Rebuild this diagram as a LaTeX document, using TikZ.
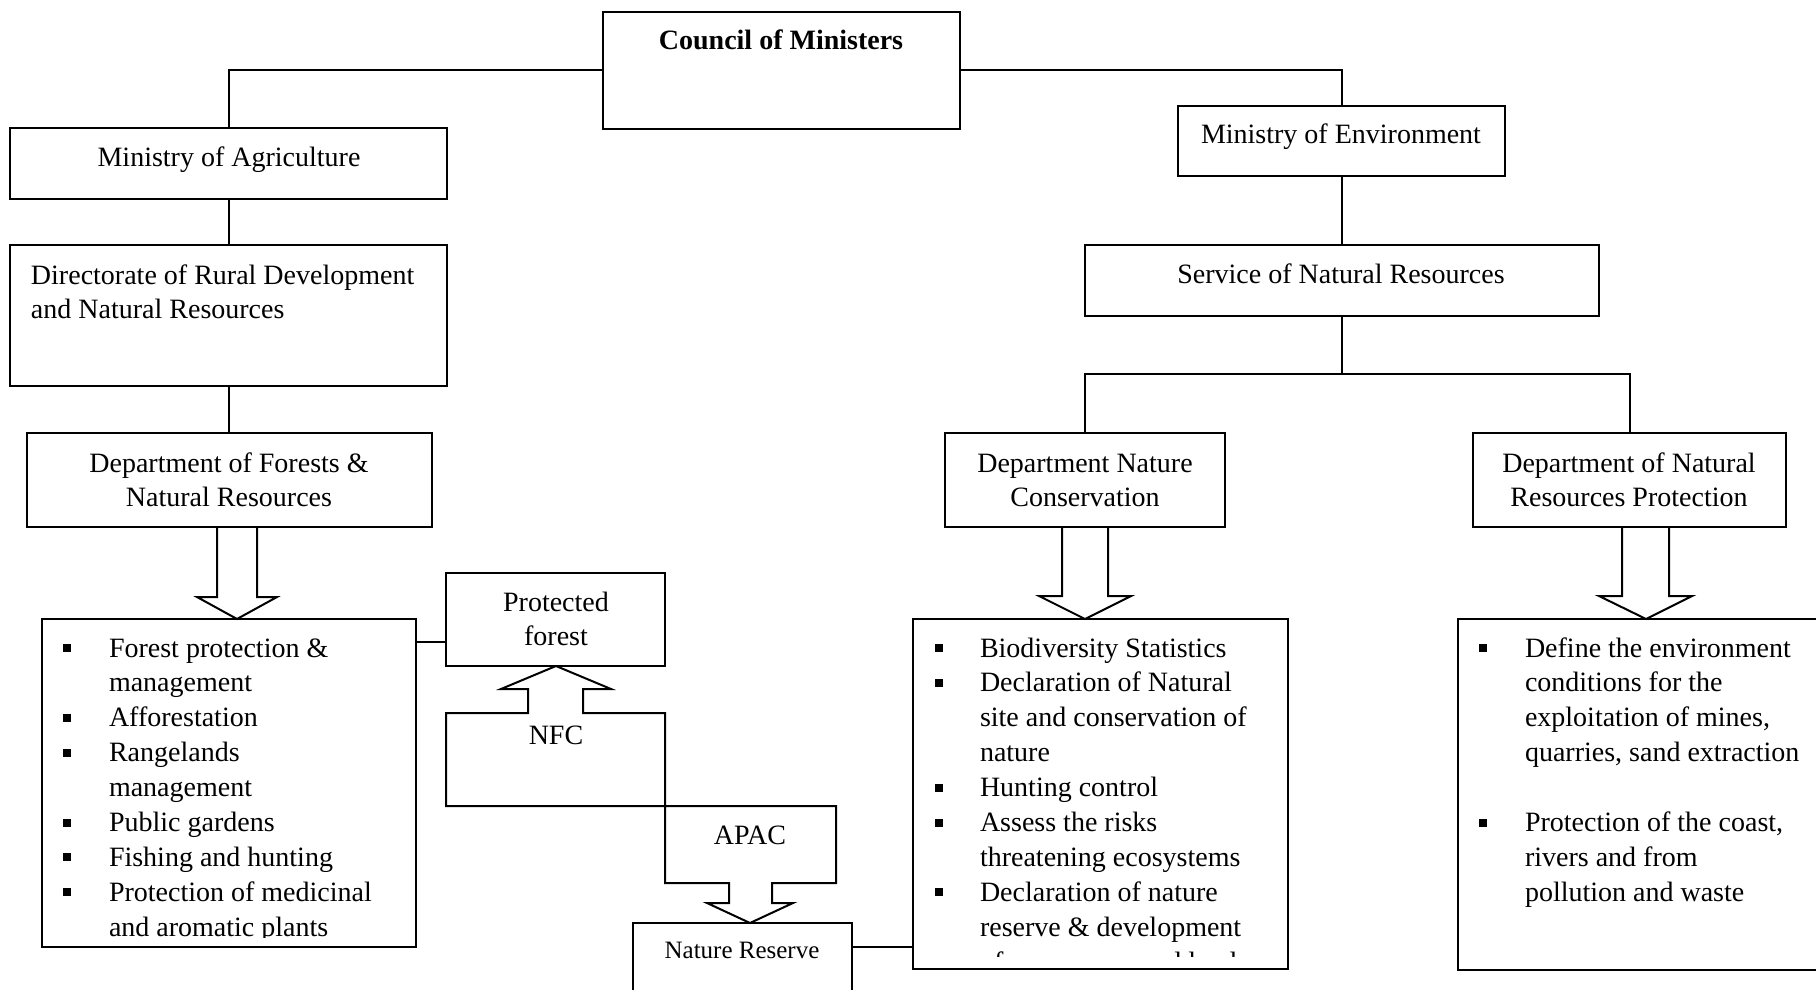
\documentclass[tikz,border=0pt]{standalone}
\usepackage{fontspec}
\setmainfont{Liberation Serif}
\begin{document}
\begin{tikzpicture}[x=0.5pt,y=-0.5pt, line width=1pt,
  box/.style 2 args={draw, line width=1pt, anchor=north west, inner sep=0pt, outer sep=0pt, minimum width=#1*0.5pt, minimum height=#2*0.5pt},
  txt/.style={font=\fontsize{14}{17.45}\selectfont, inner sep=0pt, outer sep=0pt},
  boldtxt/.style={font=\fontsize{14}{17.45}\selectfont\bfseries, inner sep=0pt, outer sep=0pt},
  smalltxt/.style={font=\fontsize{12.5}{14}\selectfont, inner sep=0pt, outer sep=0pt},
  blockarrow/.style={draw, line width=1pt, line join=miter}]
\useasboundingbox (0,0) rectangle (1816,990);
\clip (0,0) rectangle (1816,990);

% boxes
\node[box={357}{117}] (council) at (603,12) {};
\node[box={437}{71}] (agri) at (10,128) {};
\node[box={327}{70}] (env) at (1178,106) {};
\node[box={437}{141}] (dir) at (10,245) {};
\node[box={405}{94}] (forest) at (27,433) {};
\node[box={514}{71}] (snr) at (1085,245) {};
\node[box={280}{94}] (dnc) at (945,433) {};
\node[box={313}{94}] (dnrp) at (1473,433) {};
\node[box={374}{328}] (lbox) at (42,619) {};
\node[box={375}{350}] (mbox) at (913,619) {};
\node[box={400}{351}] (rbox) at (1458,619) {};
\node[box={219}{93}] (pf) at (446,573) {};
\node[box={219}{100}] (nr) at (633,923) {};

% texts
\node[boldtxt, anchor=base] (tcouncil) at (781,50) {Council of Ministers};
\node[txt, anchor=base] (tagri) at (229,167) {Ministry of Agriculture};
\node[txt, anchor=base] (tenv) at (1341,144) {Ministry of Environment};
\node[txt, anchor=base west] (tdir) at (31,284) {\begin{tabular}[t]{@{}l@{}}Directorate of Rural Development\\and Natural Resources\end{tabular}};
\node[txt, anchor=base] (tforest) at (229,472) {\begin{tabular}[t]{@{}c@{}}Department of Forests \&\\Natural Resources\end{tabular}};
\node[txt, anchor=base] (tsnr) at (1341,283) {Service of Natural Resources};
\node[txt, anchor=base] (tdnc) at (1085,472) {\begin{tabular}[t]{@{}c@{}}Department Nature\\Conservation\end{tabular}};
\node[txt, anchor=base] (tdnrp) at (1629,472) {\begin{tabular}[t]{@{}c@{}}Department of Natural\\Resources Protection\end{tabular}};
\node[txt, anchor=base] (tpf) at (556,611) {\begin{tabular}[t]{@{}c@{}}Protected\\forest\end{tabular}};
\node[smalltxt, anchor=base] (tnr) at (742,958) {Nature Reserve};

% connectors
\draw (council.west) -| (agri.north);
\draw (council.east) -| (env.north);
\draw (agri.south) -- (dir.north);
\draw (dir.south) -- (dir.south |- forest.north);
\draw (env.south) -- (env.south |- snr.north);
\draw (env.south |- snr.south) -- (env.south |- 0,374) coordinate (br);
\draw (dnc.north) |- (br) -| (dnrp.north);
\draw (lbox.east |- 0,642) -- (pf.west |- 0,642);
\draw (nr.east |- 0,947) -- (mbox.west |- 0,947);

% block arrows
\draw[blockarrow] (217,527) -- (217,597) -- (197,597) -- (237,619) -- (277,597) -- (257,597) -- (257,527);
\draw[blockarrow] (1062,527) -- (1062,596) -- (1039,596) -- (1085,619) -- (1131,596) -- (1108,596) -- (1108,527);
\draw[blockarrow] (1622,527) -- (1622,596) -- (1599,596) -- (1646,619) -- (1692,596) -- (1669,596) -- (1669,527);
\draw[blockarrow] (556,666) -- (611,689) -- (583,689) -- (583,713) -- (665,713) -- (665,806) -- (446,806) -- (446,713) -- (528,713) -- (528,689) -- (501,689) -- cycle;
\draw[blockarrow] (665,806) -- (836,806) -- (836,883) -- (772,883) -- (772,903) -- (793,903) -- (750,923) -- (707,903) -- (729,903) -- (729,883) -- (665,883) -- cycle;
\node[txt, anchor=base] (tnfc) at (556,744) {NFC};
\node[txt, anchor=base] (tapac) at (750,844) {APAC};

% left list
\begin{scope}
\clip (42,619) rectangle (416,937);
\node[txt, anchor=base west] (llist) at (109,657) {\begin{tabular}[t]{@{}l@{}}Forest protection \&\\management\\Afforestation\\Rangelands\\management\\Public gardens\\Fishing and hunting\\Protection of medicinal\\and aromatic plants\end{tabular}};
\end{scope}
\foreach \k in {0,2,3,5,6,7} \fill (63,{644+34.9*\k}) rectangle ++(8,8);

% middle list
\begin{scope}
\clip (913,619) rectangle (1288,956);
\node[txt, anchor=base west] (mlist) at (980,657) {\begin{tabular}[t]{@{}l@{}}Biodiversity Statistics\\Declaration of Natural\\site and conservation of\\nature\\Hunting control\\Assess the risks\\threatening ecosystems\\Declaration of nature\\reserve \& development\\of some areas and lands\end{tabular}};
\end{scope}
\foreach \k in {0,1,4,5,7} \fill (935,{644+34.9*\k}) rectangle ++(8,8);

% right list
\node[txt, anchor=base west] (rlist) at (1525,657) {\begin{tabular}[t]{@{}l@{}}Define the environment\\conditions for the\\exploitation of mines,\\quarries, sand extraction\\ \\Protection of the coast,\\rivers and from\\pollution and waste\end{tabular}};
\foreach \k in {0,5} \fill (1479,{644+34.9*\k}) rectangle ++(8,8);
\end{tikzpicture}
\end{document}
